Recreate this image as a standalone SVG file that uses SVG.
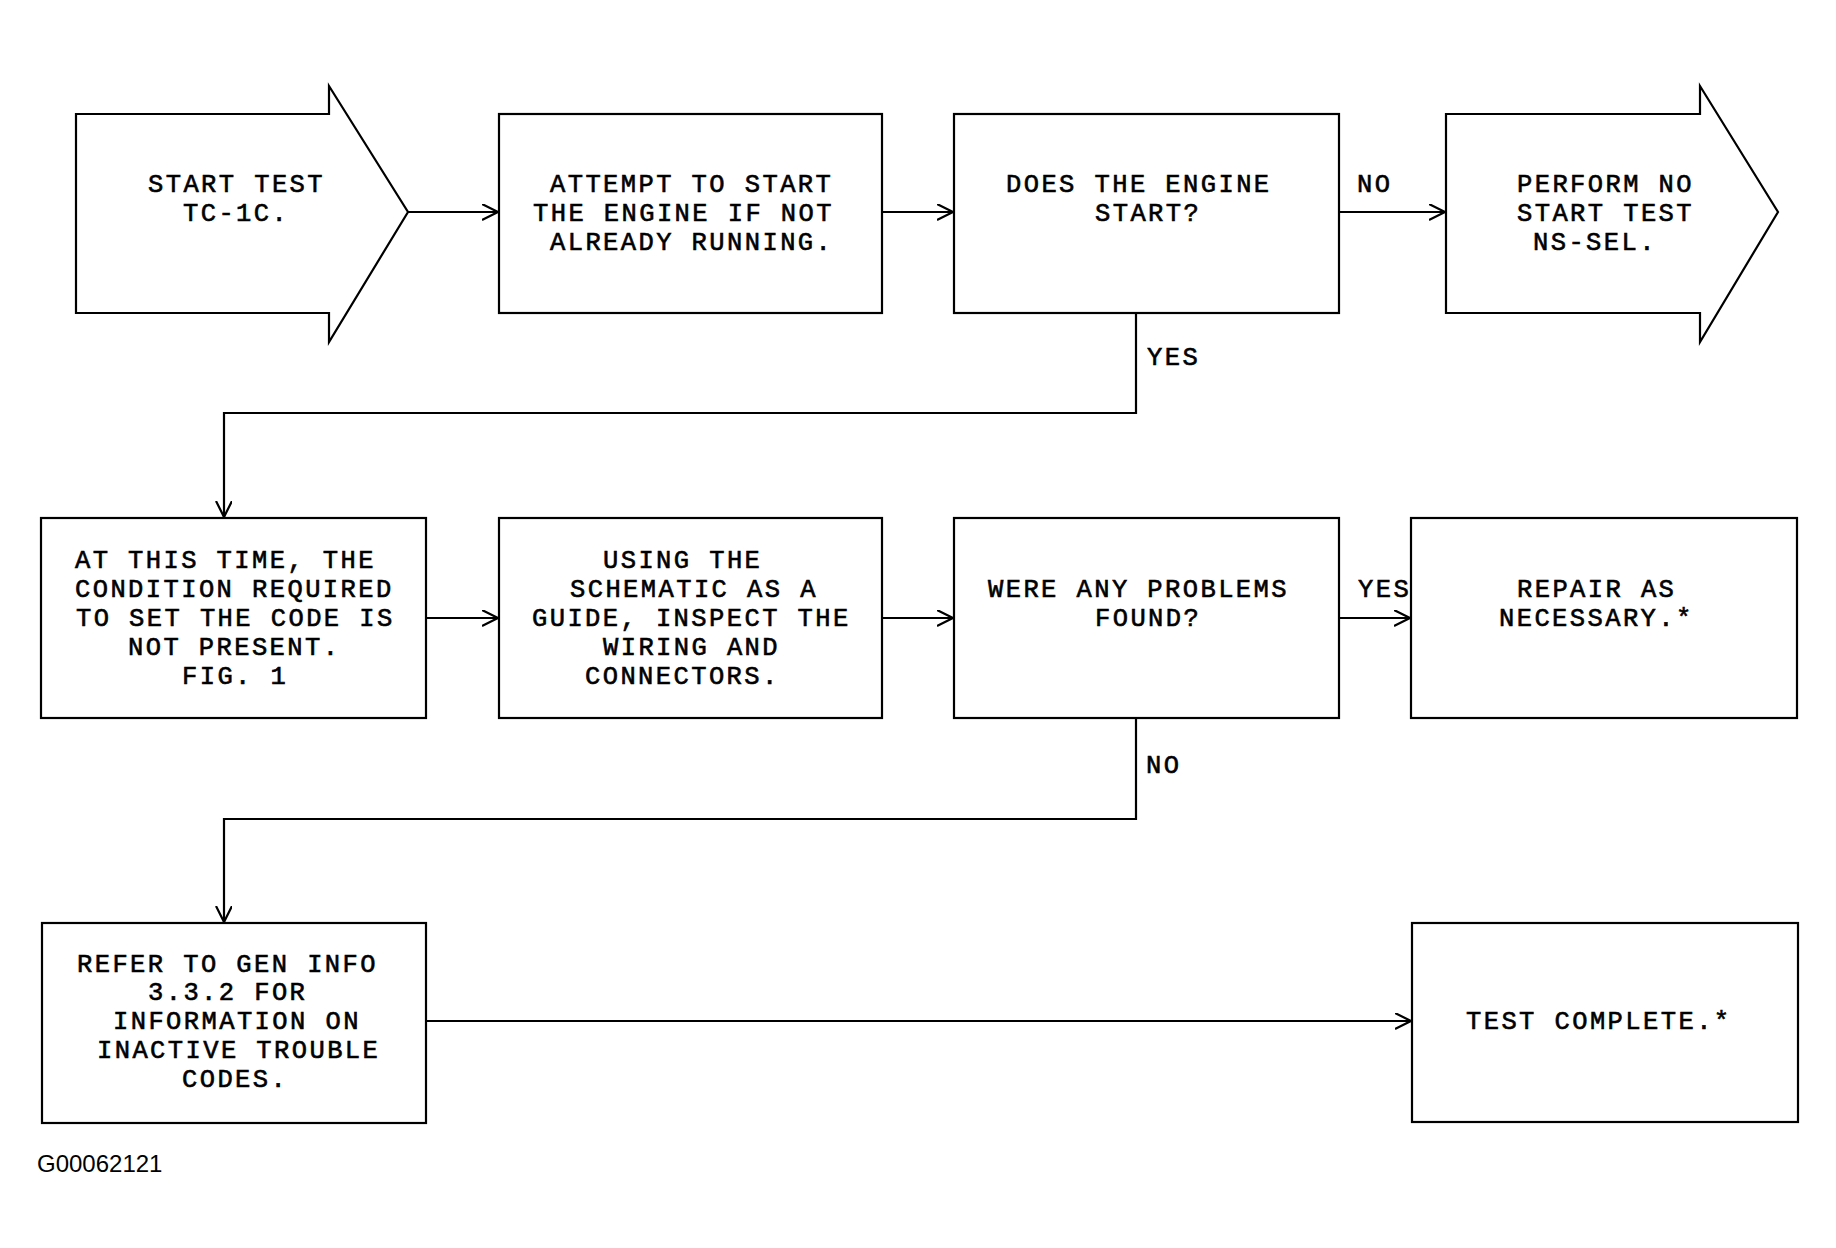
<svg xmlns="http://www.w3.org/2000/svg" width="1836" height="1248" viewBox="0 0 1836 1248">
<style>
.shape{fill:#fff;stroke:#000;stroke-width:2.2;stroke-linejoin:miter}
.conn{fill:none;stroke:#000;stroke-width:2.2}
.t{font-family:"Liberation Mono","Courier New",monospace;font-size:25.5px;letter-spacing:2.4px;fill:#000;stroke:#000;stroke-width:0.6}
.id{font-family:"Liberation Sans",Arial,sans-serif;font-size:24px;fill:#000}
</style>
<defs>
<marker id="ah" markerUnits="userSpaceOnUse" markerWidth="20" markerHeight="20" refX="16" refY="8" orient="auto">
<path d="M0,0 L16,8 L0,16" fill="none" stroke="#000" stroke-width="2.2"/>
</marker>
</defs>
<rect width="1836" height="1248" fill="#fff"/>
<g id="connectors">
<line class="conn" x1="408" y1="212" x2="498" y2="212" marker-end="url(#ah)"/>
<line class="conn" x1="882" y1="212" x2="953" y2="212" marker-end="url(#ah)"/>
<line class="conn" x1="1339" y1="212" x2="1445" y2="212" marker-end="url(#ah)"/>
<polyline class="conn" points="1136,313 1136,413 224,413 224,517" marker-end="url(#ah)"/>
<line class="conn" x1="426" y1="618" x2="498" y2="618" marker-end="url(#ah)"/>
<line class="conn" x1="882" y1="618" x2="953" y2="618" marker-end="url(#ah)"/>
<line class="conn" x1="1339" y1="618" x2="1410" y2="618" marker-end="url(#ah)"/>
<polyline class="conn" points="1136,718 1136,819 224,819 224,922" marker-end="url(#ah)"/>
<line class="conn" x1="426" y1="1021" x2="1411" y2="1021" marker-end="url(#ah)"/>
<text class="t" x="1357" y="192">NO</text>
<text class="t" x="1147" y="365">YES</text>
<text class="t" x="1358" y="597">YES</text>
<text class="t" x="1146" y="773">NO</text>
</g>
<g id="start">
<polygon class="shape" points="76,114 329,114 329,86 408,212 329,342 329,313 76,313"/>
<text class="t" x="148" y="192">START TEST</text>
<text class="t" x="183" y="221">TC-1C.</text>
</g>
<g id="attempt">
<rect class="shape" x="499" y="114" width="383" height="199"/>
<text class="t" x="550" y="192">ATTEMPT TO START</text>
<text class="t" x="533" y="221">THE ENGINE IF NOT</text>
<text class="t" x="550" y="250">ALREADY RUNNING.</text>
</g>
<g id="engine-start">
<rect class="shape" x="954" y="114" width="385" height="199"/>
<text class="t" x="1006" y="192">DOES THE ENGINE</text>
<text class="t" x="1095" y="221">START?</text>
</g>
<g id="no-start-test">
<polygon class="shape" points="1446,114 1700,114 1700,86 1778,212 1700,342 1700,313 1446,313"/>
<text class="t" x="1517" y="192">PERFORM NO</text>
<text class="t" x="1517" y="221">START TEST</text>
<text class="t" x="1533" y="250">NS-SEL.</text>
</g>
<g id="condition">
<rect class="shape" x="41" y="518" width="385" height="200"/>
<text class="t" x="75" y="568">AT THIS TIME, THE</text>
<text class="t" x="75" y="597">CONDITION REQUIRED</text>
<text class="t" x="76" y="626">TO SET THE CODE IS</text>
<text class="t" x="128" y="655">NOT PRESENT.</text>
<text class="t" x="182" y="684">FIG. 1</text>
</g>
<g id="inspect">
<rect class="shape" x="499" y="518" width="383" height="200"/>
<text class="t" x="603" y="568">USING THE</text>
<text class="t" x="570" y="597">SCHEMATIC AS A</text>
<text class="t" x="532" y="626">GUIDE, INSPECT THE</text>
<text class="t" x="603" y="655">WIRING AND</text>
<text class="t" x="585" y="684">CONNECTORS.</text>
</g>
<g id="problems">
<rect class="shape" x="954" y="518" width="385" height="200"/>
<text class="t" x="988" y="597">WERE ANY PROBLEMS</text>
<text class="t" x="1095" y="626">FOUND?</text>
</g>
<g id="repair">
<rect class="shape" x="1411" y="518" width="386" height="200"/>
<text class="t" x="1517" y="597">REPAIR AS</text>
<text class="t" x="1499" y="626">NECESSARY.*</text>
</g>
<g id="refer">
<rect class="shape" x="42" y="923" width="384" height="200"/>
<text class="t" x="77" y="972">REFER TO GEN INFO</text>
<text class="t" x="148" y="1000">3.3.2 FOR</text>
<text class="t" x="113" y="1029">INFORMATION ON</text>
<text class="t" x="97" y="1058">INACTIVE TROUBLE</text>
<text class="t" x="182" y="1087">CODES.</text>
</g>
<g id="complete">
<rect class="shape" x="1412" y="923" width="386" height="199"/>
<text class="t" x="1466" y="1029">TEST COMPLETE.*</text>
</g>
<text class="id" x="37" y="1172">G00062121</text>
</svg>
